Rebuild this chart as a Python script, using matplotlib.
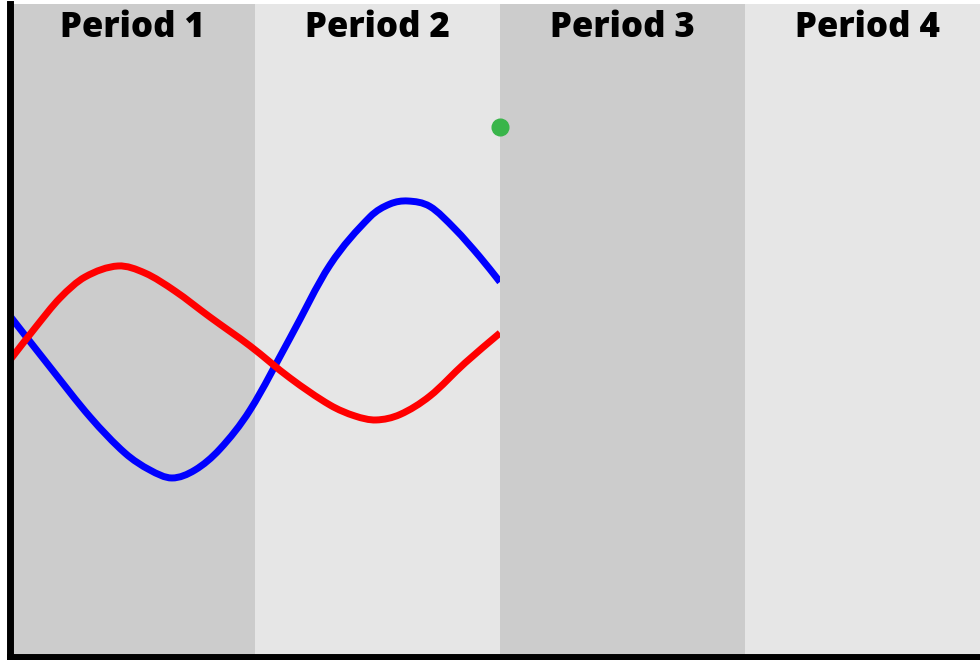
import matplotlib
matplotlib.use("Agg")
import matplotlib.pyplot as plt
from matplotlib.path import Path
from matplotlib.patches import PathPatch

periods = ["Period 1", "Period 2", "Period 3", "Period 4"]
period_starts = [0, 1, 2, 3]
band_colors = ["#cccccc", "#e6e6e6", "#cccccc", "#e6e6e6"]

blue_x = [0.0, 0.163, 0.327, 0.469, 0.571, 0.661, 0.755, 0.857, 0.980,
          1.143, 1.306, 1.469, 1.551, 1.624, 1.714, 1.816, 1.918, 2.0]
blue_y = [52.18, 44.37, 36.70, 31.19, 28.58, 27.36, 28.58, 31.80, 37.78,
          48.81, 60.00, 67.36, 69.35, 69.81, 68.97, 65.52, 61.23, 57.40]

red_x = [0.0, 0.102, 0.204, 0.306, 0.441, 0.551, 0.673, 0.816, 0.980,
         1.143, 1.306, 1.408, 1.494, 1.592, 1.714, 1.857, 2.0]
red_y = [45.44, 50.34, 54.94, 58.16, 59.85, 58.77, 56.02, 52.03, 47.59,
         42.68, 38.54, 36.86, 36.25, 37.09, 39.92, 44.98, 49.58]

dot_x = [2.0]
dot_y = [81.2]


def smooth_path(xs, ys):
    """Smooth cubic Bezier path through the points (Hermite tangents in x)."""
    n = len(xs)
    m = []
    for i in range(n):
        a = max(i - 1, 0)
        b = min(i + 1, n - 1)
        m.append((ys[b] - ys[a]) / (xs[b] - xs[a]))
    verts = [(xs[0], ys[0])]
    codes = [Path.MOVETO]
    for i in range(n - 1):
        h = xs[i + 1] - xs[i]
        verts += [(xs[i] + h / 3, ys[i] + m[i] * h / 3),
                  (xs[i + 1] - h / 3, ys[i + 1] - m[i + 1] * h / 3),
                  (xs[i + 1], ys[i + 1])]
        codes += [Path.CURVE4] * 3
    return Path(verts, codes)


fig = plt.figure(figsize=(9.8, 6.6), dpi=100)
ax = fig.add_axes([10 / 980, 3.5 / 660, 970 / 980, 652.5 / 660])
ax.set_xlim(0, 970 / 245)
ax.set_ylim(0, 100)

for i, (name, start, col) in enumerate(zip(periods, period_starts, band_colors)):
    z = 0 if i < 2 else 3
    ax.axvspan(start, start + 1, color=col, lw=0, zorder=z)
    ax.text(start + 0.5, 0.963, name, transform=ax.get_xaxis_transform(),
            ha="center", va="center", fontsize=25, fontweight=800,
            family="Open Sans", color="black", zorder=5)

for xs, ys, col in [(blue_x, blue_y, "#0000ff"), (red_x, red_y, "#ff0000")]:
    patch = PathPatch(smooth_path(xs, ys), facecolor="none", edgecolor=col,
                      lw=5, zorder=2, capstyle="butt", joinstyle="round",
                      transform=ax.transData)
    ax.add_patch(patch)

ax.plot(dot_x, dot_y, "o", color="#39b54a", markersize=12, zorder=4, clip_on=False)

for s in ["top", "right"]:
    ax.spines[s].set_visible(False)
for s in ["left", "bottom"]:
    ax.spines[s].set_linewidth(5)
    ax.spines[s].set_color("black")
    ax.spines[s].set_zorder(6)
ax.set_xticks([])
ax.set_yticks([])

fig.savefig("out.png", dpi=100, facecolor="white")
